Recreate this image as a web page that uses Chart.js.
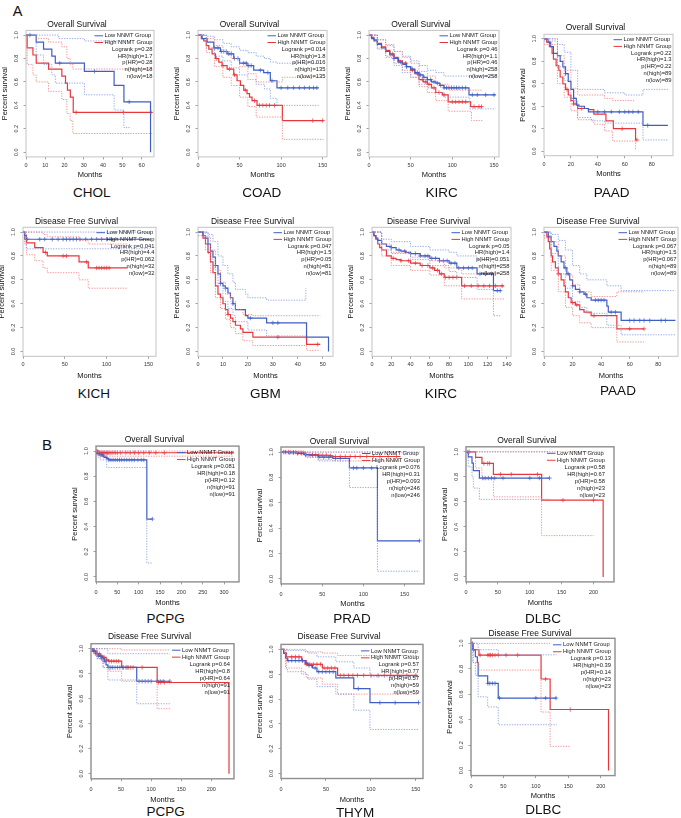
<!DOCTYPE html>
<html>
<head>
<meta charset="utf-8">
<script src="https://cdn.jsdelivr.net/npm/chart.js@4.4.0/dist/chart.umd.min.js"></script>
<style>
html, body { margin: 0; padding: 0; background: #fff; }
#fig { position: relative; width: 681px; height: 818px; overflow: hidden; font-family: "Liberation Sans", Arial, sans-serif; color: #111; }
#fig canvas { position: absolute; }
.lab { position: absolute; transform: translate(-50%, -50%); white-space: nowrap; line-height: 1; }
</style>
</head>
<body>
<div id="fig"></div>
<script>
// ---- data: [months, survival] step points, censor times ----
const GROUPS = ['Low NNMT Group', 'High NNMT Group'];
const Y_TICKS = [0, 0.2, 0.4, 0.6, 0.8, 1.0];

// CHOL overall survival
const CHOL_XT = [0, 10, 20, 30, 40, 50, 60];
const CHOL_STATS = ['Logrank p=0.28', 'HR(high)=1.7', 'p(HR)=0.28', 'n(high)=18', 'n(low)=18'];
const CHOL_LOW = [[0,1],[5.3,0.94],[9.1,0.88],[13.4,0.82],[15.2,0.76],[30.3,0.69],[45.7,0.57],[50.8,0.43],[64.6,0.43],[64.6,0]];
const CHOL_HIGH = [[0,1],[0.6,0.89],[3.6,0.83],[5.3,0.76],[11.7,0.71],[18.6,0.65],[20.5,0.59],[21.5,0.53],[23,0.47],[24.5,0.34],[65.5,0.34]];
const CHOL_LOW_UP = [[0,1],[16,1],[17,0.97],[30.3,0.95],[54.5,0.95]];
const CHOL_LOW_DN = [[0,1],[5.3,0.83],[9.1,0.75],[13.4,0.66],[15.2,0.59],[30.3,0.49],[45.7,0.36],[50.8,0.21],[54.5,0.21]];
const CHOL_HIGH_UP = [[0,1],[5.3,0.97],[11.7,0.94],[18.6,0.9],[21.2,0.8],[22.9,0.75],[24.3,0.71],[65.5,0.71]];
const CHOL_HIGH_DN = [[0,1],[0.6,0.75],[3.6,0.66],[5.3,0.6],[11.7,0.52],[18.6,0.45],[21.2,0.33],[22.9,0.27],[24.3,0.16],[65.5,0.16]];
const CHOL_LOW_CENS = [2, 17.5, 35.5, 53.5];
const CHOL_HIGH_CENS = [26, 50.5, 64.8];

// COAD overall survival
const COAD_XT = [0, 50, 100, 150];
const COAD_STATS = ['Logrank p=0.014', 'HR(high)=1.8', 'p(HR)=0.016', 'n(high)=135', 'n(low)=135'];
const COAD_LOW = [[0,1],[5,0.97],[11,0.94],[19,0.89],[27,0.86],[35,0.84],[43,0.8],[50,0.76],[59,0.74],[67,0.7],[79,0.68],[87,0.61],[95,0.55],[145,0.55]];
const COAD_HIGH = [[0,1],[4,0.97],[7,0.95],[10,0.91],[13,0.88],[17,0.84],[21,0.8],[25,0.77],[29,0.74],[35,0.71],[43,0.66],[47,0.61],[51,0.57],[55,0.53],[59,0.5],[62,0.47],[65,0.44],[71,0.4],[101.5,0.27],[151,0.27]];
const COAD_LOW_UP = [[0,1],[10,0.99],[20,0.96],[30,0.93],[40,0.9],[50,0.87],[60,0.85],[70,0.82],[80,0.8],[87,0.77],[95,0.76],[145,0.76]];
const COAD_LOW_DN = [[0,1],[10,0.89],[20,0.82],[30,0.78],[40,0.72],[50,0.66],[60,0.62],[70,0.58],[80,0.54],[87,0.46],[95,0.4],[145,0.4]];
const COAD_HIGH_UP = [[0,1],[10,0.97],[20,0.91],[30,0.86],[40,0.8],[50,0.73],[60,0.67],[70,0.6],[101.5,0.64],[151,0.64]];
const COAD_HIGH_DN = [[0,1],[10,0.85],[20,0.73],[30,0.64],[40,0.57],[50,0.47],[60,0.39],[70,0.3],[101.5,0.11],[151,0.11]];
const COAD_LOW_CENS = [20,24,28,31,34,37,40,44,48,55,58,61,64,75,84,89,100,108,115,122,128,134,139,143];
const COAD_HIGH_CENS = [22,30,38,44,57,68,74,78,82,86,92,138,150];

// KIRC overall survival
const KIRC_OS_XT = [0, 50, 100, 150];
const KIRC_OS_STATS = ['Logrank p=0.46', 'HR(high)=1.1', 'p(HR)=0.46', 'n(high)=258', 'n(low)=258'];
const KIRC_OS_LOW = [[0,1],[3,0.97],[6,0.95],[10,0.92],[15,0.89],[20,0.86],[25,0.83],[30,0.8],[35,0.77],[40,0.75],[45,0.73],[50,0.71],[55,0.68],[60,0.66],[65,0.64],[70,0.62],[75,0.6],[80,0.59],[85,0.57],[90,0.55],[120,0.49],[152,0.49]];
const KIRC_OS_HIGH = [[0,1],[3,0.98],[6,0.96],[10,0.93],[15,0.9],[20,0.87],[25,0.84],[30,0.81],[35,0.78],[40,0.76],[45,0.73],[50,0.7],[55,0.67],[60,0.62],[65,0.6],[70,0.58],[75,0.55],[80,0.51],[88,0.49],[95,0.43],[122,0.39],[136,0.39]];
const KIRC_OS_LOW_UP = [[0,1],[10,0.96],[20,0.91],[30,0.86],[40,0.82],[50,0.78],[60,0.74],[70,0.7],[80,0.68],[90,0.65],[152,0.65]];
const KIRC_OS_LOW_DN = [[0,1],[10,0.88],[20,0.81],[30,0.74],[40,0.68],[50,0.64],[60,0.58],[70,0.55],[80,0.51],[90,0.47],[121,0.37],[152,0.37]];
const KIRC_OS_HIGH_UP = [[0,1],[10,0.96],[20,0.92],[30,0.86],[40,0.81],[50,0.76],[60,0.69],[70,0.65],[80,0.58],[95,0.53],[136,0.53]];
const KIRC_OS_HIGH_DN = [[0,1],[10,0.89],[20,0.82],[30,0.76],[40,0.7],[50,0.64],[60,0.56],[70,0.51],[80,0.44],[95,0.35],[123,0.27],[136,0.27]];
const KIRC_OS_LOW_CENS = [30,38,45,52,58,62,66,70,74,78,82,86,90,93,96,99,102,105,108,112,116,124,130,140,150];
const KIRC_OS_HIGH_CENS = [28,36,44,52,58,64,68,72,78,84,90,100,104,108,112,116,126,132,135];

// PAAD overall survival
const PAAD_OS_XT = [0, 20, 40, 60, 80];
const PAAD_OS_STATS = ['Logrank p=0.22', 'HR(high)=1.3', 'p(HR)=0.22', 'n(high)=89', 'n(low)=89'];
const PAAD_OS_LOW = [[0,1],[3,0.97],[5,0.93],[7,0.87],[10,0.85],[12,0.8],[14,0.75],[16,0.69],[18,0.62],[20,0.55],[22,0.47],[24,0.41],[26,0.4],[30,0.38],[33,0.35],[73.5,0.23],[92,0.23]];
const PAAD_OS_HIGH = [[0,1],[2,0.97],[4,0.93],[6,0.87],[7,0.82],[9,0.76],[11,0.72],[12,0.66],[14,0.6],[16,0.55],[18,0.5],[20,0.45],[22,0.42],[25,0.38],[33,0.37],[37,0.33],[46,0.27],[51.5,0.2],[68,0.1],[69,0.1]];
const PAAD_OS_LOW_UP = [[0,1],[10,0.95],[15,0.88],[20,0.72],[25,0.55],[45,0.52],[60,0.5],[73.5,0.55],[92,0.55]];
const PAAD_OS_LOW_DN = [[0,0.98],[10,0.75],[15,0.63],[20,0.45],[25,0.3],[35,0.27],[45,0.25],[73.5,0.1],[92,0.1]];
const PAAD_OS_HIGH_UP = [[0,1],[10,0.85],[15,0.72],[20,0.56],[25,0.5],[45,0.47],[51,0.45],[67,0.45]];
const PAAD_OS_HIGH_DN = [[0,0.95],[10,0.6],[15,0.48],[20,0.36],[25,0.28],[37,0.24],[45,0.18],[51,0.09],[68,0.02],[69,0.02]];
const PAAD_OS_LOW_CENS = [16,22,40,45,50,56,60,63,66,70,77];
const PAAD_OS_HIGH_CENS = [17,22,28,58,69];

// KICH disease free survival
const KICH_XT = [0, 50, 100, 150];
const KICH_STATS = ['Logrank p=0.041', 'HR(high)=4.4', 'p(HR)=0.062', 'n(high)=32', 'n(low)=32'];
const KICH_LOW = [[0,1],[2,0.97],[4,0.94],[152,0.94]];
const KICH_HIGH = [[0,1],[2,0.94],[4,0.91],[14,0.87],[24,0.83],[29,0.8],[67,0.75],[78,0.7],[125,0.7]];
const KICH_LOW_UP = [[0,1],[152,1]];
const KICH_LOW_DN = [[0,1],[2,0.9],[4,0.86],[152,0.86]];
const KICH_HIGH_UP = [[0,1],[24,0.98],[29,0.96],[67,0.93],[78,0.9],[125,0.9]];
const KICH_HIGH_DN = [[0,1],[4,0.81],[14,0.76],[24,0.7],[29,0.66],[67,0.6],[78,0.53],[125,0.53]];
const KICH_LOW_CENS = [5,20,26,35,42,48,52,56,60,64,68,75,82,88,94,100,106];
const KICH_HIGH_CENS = [27,48,52,76,88,91,94,97,100,103];

// GBM disease free survival
const GBM_XT = [0, 10, 20, 30, 40, 50];
const GBM_STATS = ['Logrank p=0.047', 'HR(high)=1.5', 'p(HR)=0.05', 'n(high)=81', 'n(low)=81'];
const GBM_LOW = [[0,1],[2,0.97],[3,0.95],[4,0.9],[5,0.84],[6,0.79],[7,0.72],[8,0.65],[9,0.57],[10,0.55],[11,0.53],[12,0.49],[13,0.45],[14,0.4],[15,0.35],[19,0.3],[20,0.28],[27.5,0.24],[43.5,0.12],[52.3,0.12],[52.3,0]];
const GBM_HIGH = [[0,1],[2,0.95],[3,0.9],[4,0.83],[5,0.75],[6,0.66],[7,0.55],[8,0.48],[9,0.45],[10,0.4],[11,0.35],[12,0.31],[13,0.28],[14,0.25],[15,0.22],[17,0.19],[18,0.16],[22,0.12],[43.5,0.06],[49,0.06]];
const GBM_LOW_UP = [[0,1],[4,0.98],[6,0.92],[8,0.8],[10,0.72],[12,0.65],[14,0.58],[15,0.52],[19,0.48],[20,0.45],[27.5,0.43],[43.2,0.43],[43.2,0.53]];
const GBM_LOW_DN = [[0,1],[4,0.82],[6,0.7],[8,0.55],[10,0.42],[12,0.36],[14,0.3],[15,0.25],[20,0.18],[27.5,0.13],[43.2,0.13]];
const GBM_HIGH_UP = [[0,1],[3,0.96],[5,0.85],[7,0.68],[9,0.58],[11,0.48],[13,0.42],[15,0.35],[18,0.31],[22,0.3],[49,0.3]];
const GBM_HIGH_DN = [[0,0.97],[3,0.85],[5,0.66],[7,0.45],[9,0.36],[11,0.27],[13,0.2],[15,0.15],[18,0.09],[22,0.05],[43.5,0.01],[49,0.01]];
const GBM_LOW_CENS = [7,9,11,14,21,30,32];
const GBM_HIGH_CENS = [12,32,48];

// KIRC disease free survival
const KIRC_DFS_XT = [0, 20, 40, 60, 80, 100, 120, 140];
const KIRC_DFS_STATS = ['Logrank p=0.05', 'HR(high)=1.4', 'p(HR)=0.051', 'n(high)=258', 'n(low)=258'];
const KIRC_DFS_LOW = [[0,1],[2,0.97],[4,0.95],[6,0.93],[10,0.9],[15,0.88],[20,0.87],[25,0.85],[30,0.84],[35,0.83],[40,0.82],[50,0.8],[60,0.78],[70,0.76],[80,0.74],[88,0.7],[109,0.65],[126,0.51],[134,0.51]];
const KIRC_DFS_HIGH = [[0,1],[2,0.97],[4,0.94],[6,0.9],[8,0.87],[10,0.85],[15,0.8],[20,0.78],[25,0.77],[30,0.76],[40,0.74],[50,0.72],[60,0.7],[65,0.68],[70,0.65],[75,0.62],[93,0.55],[137,0.55]];
const KIRC_DFS_LOW_UP = [[0,1],[10,0.94],[20,0.92],[40,0.88],[60,0.85],[80,0.83],[88,0.8],[109,0.77],[126,0.72],[134,0.72]];
const KIRC_DFS_LOW_DN = [[0,1],[10,0.85],[20,0.82],[40,0.77],[60,0.72],[80,0.67],[88,0.62],[109,0.52],[126,0.3],[134,0.3]];
const KIRC_DFS_HIGH_UP = [[0,1],[10,0.9],[20,0.83],[40,0.79],[60,0.76],[75,0.7],[93,0.65],[137,0.65]];
const KIRC_DFS_HIGH_DN = [[0,1],[10,0.8],[20,0.72],[40,0.68],[60,0.64],[75,0.55],[93,0.44],[137,0.44]];
const KIRC_DFS_LOW_CENS = [20,28,34,40,45,50,55,58,62,66,70,74,78,82,86,90,95,100,104,112,118,124,130,133];
const KIRC_DFS_HIGH_CENS = [22,30,38,45,52,58,63,68,72,76,80,84,88,96,103,110,116,122,128,135];

// PAAD disease free survival
const PAAD_DFS_XT = [0, 20, 40, 60, 80];
const PAAD_DFS_STATS = ['Logrank p=0.067', 'HR(high)=1.5', 'p(HR)=0.067', 'n(high)=89', 'n(low)=89'];
const PAAD_DFS_LOW = [[0,1],[3,0.96],[5,0.92],[7,0.88],[9,0.84],[10,0.8],[12,0.75],[14,0.7],[16,0.65],[18,0.6],[20,0.55],[22,0.52],[25,0.5],[28,0.48],[30,0.45],[33,0.43],[44,0.38],[45,0.33],[54,0.26],[92,0.26]];
const PAAD_DFS_HIGH = [[0,1],[2,0.96],[3,0.92],[4,0.86],[5,0.8],[6,0.75],[8,0.7],[10,0.65],[12,0.6],[14,0.55],[15,0.5],[17,0.45],[19,0.41],[22,0.39],[25,0.35],[28,0.33],[33,0.3],[51,0.19],[70,0.19]];
const PAAD_DFS_LOW_UP = [[0,1],[5,0.98],[10,0.93],[15,0.85],[20,0.72],[25,0.65],[30,0.6],[44,0.55],[54,0.51],[92,0.51]];
const PAAD_DFS_LOW_DN = [[0,0.97],[5,0.82],[10,0.65],[15,0.53],[20,0.42],[25,0.37],[30,0.32],[44,0.22],[54,0.14],[92,0.14]];
const PAAD_DFS_HIGH_UP = [[0,1],[5,0.92],[10,0.8],[15,0.64],[20,0.56],[25,0.5],[33,0.46],[51,0.5],[70,0.5]];
const PAAD_DFS_HIGH_DN = [[0,0.95],[5,0.68],[10,0.5],[15,0.37],[20,0.3],[25,0.24],[33,0.2],[51,0.08],[70,0.08]];
const PAAD_DFS_LOW_CENS = [15,17,20,25,29,36,38,40,42,47,50,60,63,67,70,74,82,85];
const PAAD_DFS_HIGH_CENS = [10,20,23,35,60,70];

// PCPG overall survival
const PCPG_OS_XT = [0, 50, 100, 150, 200, 250, 300];
const PCPG_OS_STATS = ['Logrank p=0.081', 'HR(high)=0.18', 'p(HR)=0.12', 'n(high)=91', 'n(low)=91'];
const PCPG_OS_LOW = [[0,1],[3,0.98],[8,0.97],[15,0.96],[20,0.95],[25,0.94],[30,0.93],[119,0.46],[132,0.46]];
const PCPG_OS_HIGH = [[0,1],[5,0.99],[10,0.987],[322,0.987]];
const PCPG_OS_LOW_UP = [[0,1],[132,1]];
const PCPG_OS_LOW_DN = [[0,1],[5,0.95],[10,0.93],[25,0.87],[119,0.11],[132,0.11]];
const PCPG_OS_HIGH_UP = [[0,1],[322,1]];
const PCPG_OS_HIGH_DN = [[0,1],[5,0.975],[10,0.96],[322,0.96]];
const PCPG_OS_LOW_CENS = [5,10,14,18,24,30,35,40,45,50,55,60,66,72,78,84,90,98,106,112,132];
const PCPG_OS_HIGH_CENS = [3,6,9,12,15,18,21,24,27,30,35,40,45,50,58,70,80,90,100,112,125,140,160];

// PRAD overall survival
const PRAD_XT = [0, 50, 100, 150];
const PRAD_STATS = ['Logrank p=0.076', 'HR(high)=0.31', 'p(HR)=0.093', 'n(high)=246', 'n(low)=246'];
const PRAD_LOW = [[0,1],[10,0.995],[20,0.99],[28,0.98],[35,0.975],[45,0.96],[63,0.95],[83,0.875],[117,0.3],[168,0.3]];
const PRAD_HIGH = [[0,1],[20,0.995],[30,0.98],[45,0.975],[60,0.97],[63,0.965],[145,0.965]];
const PRAD_LOW_UP = [[0,1],[168,1]];
const PRAD_LOW_DN = [[0,1],[30,0.96],[45,0.93],[83,0.72],[117,0.06],[168,0.06]];
const PRAD_HIGH_UP = [[0,1],[145,1]];
const PRAD_HIGH_DN = [[0,1],[30,0.96],[45,0.94],[63,0.93],[145,0.92]];
const PRAD_LOW_CENS = [5,10,15,20,25,30,38,46,52,58,66,72,88,92,100,110,168];
const PRAD_HIGH_CENS = [3,6,9,12,15,18,21,24,27,30,34,38,42,46,50,55,60,66,72,78,84,90,96,104,112,120,130,140];

// DLBC overall survival
const DLBC_OS_XT = [0, 50, 100, 150, 200];
const DLBC_OS_STATS = ['Logrank p=0.58', 'HR(high)=0.67', 'p(HR)=0.58', 'n(high)=23', 'n(low)=23'];
const DLBC_OS_LOW = [[0,1],[3.6,0.96],[9.4,0.91],[11.5,0.85],[21,0.79],[131,0.79]];
const DLBC_OS_HIGH = [[0,1],[15,0.955],[25,0.907],[43,0.82],[118.5,0.613],[215,0.613],[215,0]];
const DLBC_OS_LOW_UP = [[0,1],[131,1]];
const DLBC_OS_LOW_DN = [[0,1],[3.6,0.88],[9.4,0.8],[11.5,0.71],[21,0.62],[131,0.62]];
const DLBC_OS_HIGH_UP = [[0,1],[215,1]];
const DLBC_OS_HIGH_DN = [[0,1],[15,0.87],[25,0.78],[43,0.64],[118.5,0.33],[200,0.33]];
const DLBC_OS_LOW_CENS = [3,26,30,35,40,45,58,100,115,131];
const DLBC_OS_HIGH_CENS = [5,28,34,37,54,71,112,152,200];

// PCPG disease free survival
const PCPG_DFS_XT = [0, 50, 100, 150, 200];
const PCPG_DFS_STATS = ['Logrank p=0.64', 'HR(high)=0.8', 'p(HR)=0.64', 'n(high)=91', 'n(low)=91'];
const PCPG_DFS_LOW = [[0,1],[3,0.98],[8,0.96],[12,0.94],[18,0.92],[22,0.9],[25,0.87],[28,0.85],[76,0.74],[131,0.74]];
const PCPG_DFS_HIGH = [[0,1],[5,0.98],[10,0.96],[15,0.94],[20,0.93],[25,0.91],[29,0.9],[51,0.85],[110,0.73],[229.4,0.73],[229.4,0]];
const PCPG_DFS_LOW_UP = [[0,1],[20,1],[28,0.96],[131,0.96]];
const PCPG_DFS_LOW_DN = [[0,1],[10,0.92],[20,0.85],[28,0.75],[76,0.56],[131,0.56]];
const PCPG_DFS_HIGH_UP = [[0,1],[51,0.99],[132,0.99]];
const PCPG_DFS_HIGH_DN = [[0,1],[10,0.92],[20,0.85],[30,0.82],[51,0.74],[110,0.52],[132,0.52]];
const PCPG_DFS_LOW_CENS = [4,8,12,16,18,22,30,33,36,40,44,48,52,60,80,85,90,95,100,110,115,120,131];
const PCPG_DFS_HIGH_CENS = [6,10,14,18,22,26,30,34,38,42,46,54,58,62,66,70,85,112,116,122];

// THYM disease free survival
const THYM_XT = [0, 50, 100, 150];
const THYM_STATS = ['Logrank p=0.57', 'HR(high)=0.77', 'p(HR)=0.57', 'n(high)=59', 'n(low)=59'];
const THYM_LOW = [[0,1],[3,0.97],[5,0.93],[7,0.91],[27,0.89],[30,0.87],[35,0.85],[40,0.82],[61,0.77],[81,0.684],[99,0.571],[154,0.571]];
const THYM_HIGH = [[0,1],[3,0.97],[6,0.94],[23,0.91],[28,0.88],[46,0.85],[63,0.79],[152,0.79]];
const THYM_LOW_UP = [[0,1],[7,0.99],[27,0.98],[30,0.97],[40,0.94],[61,0.9],[81,0.85],[99,0.78],[154,0.78]];
const THYM_LOW_DN = [[0,1],[5,0.85],[7,0.82],[27,0.8],[30,0.76],[40,0.7],[61,0.64],[81,0.51],[99,0.355],[154,0.355]];
const THYM_HIGH_UP = [[0,1],[28,0.98],[46,0.97],[63,0.95],[152,0.95]];
const THYM_HIGH_DN = [[0,1],[6,0.85],[23,0.8],[28,0.77],[46,0.72],[63,0.64],[152,0.64]];
const THYM_LOW_CENS = [8,12,16,20,24,28,31,34,38,42,46,50,54,58,86,110,127,153];
const THYM_HIGH_CENS = [12,16,20,24,28,32,36,40,44,48,52,56,60,66,70,75,80,85,92,100,108,115,122,130,140,150];

// DLBC disease free survival
const DLBC_DFS_XT = [0, 50, 100, 150, 200];
const DLBC_DFS_STATS = ['Logrank p=0.13', 'HR(high)=0.39', 'p(HR)=0.14', 'n(high)=23', 'n(low)=23'];
const DLBC_DFS_LOW = [[0,1],[2.5,0.95],[6.7,0.895],[9.8,0.85],[11,0.745],[25.7,0.685],[42,0.57],[132,0.57]];
const DLBC_DFS_HIGH = [[0,1],[3.6,0.95],[12.3,0.908],[108,0.72],[122,0.48],[212,0.48],[212,0]];
const DLBC_DFS_LOW_UP = [[0,1],[11,0.95],[42,0.91],[132,0.91]];
const DLBC_DFS_LOW_DN = [[0,1],[2.5,0.85],[6.7,0.75],[11,0.58],[25.7,0.5],[42,0.36],[132,0.36]];
const DLBC_DFS_HIGH_UP = [[0,1],[122,1]];
const DLBC_DFS_HIGH_DN = [[0,1],[3.6,0.85],[12.3,0.79],[108,0.46],[122,0.19],[153,0.19]];
const DLBC_DFS_LOW_CENS = [2,26,29,33,37,44,100,115,131];
const DLBC_DFS_HIGH_CENS = [4,14,26,28,30,33,37,42,54,72,115,153];

// ---- layout (page pixels) ----
const OS = 'Overall Survival', DFS = 'Disease Free Survival';
const PLOTS = [
  { name: 'CHOL', title: OS, st: 'A', box: [25.7, 30.3, 154, 156.4], xMax: 66.4, titleY: 25, monthsY: 174, label: [91.7, 193], xt: CHOL_XT, stats: CHOL_STATS,
    c: [CHOL_LOW, CHOL_HIGH, CHOL_LOW_UP, CHOL_LOW_DN, CHOL_HIGH_UP, CHOL_HIGH_DN, CHOL_LOW_CENS, CHOL_HIGH_CENS] },
  { name: 'COAD', title: OS, st: 'A', box: [197.7, 30.3, 326.7, 156.4], xMax: 155.2, titleY: 25, monthsY: 174, label: [261.7, 193], xt: COAD_XT, stats: COAD_STATS,
    c: [COAD_LOW, COAD_HIGH, COAD_LOW_UP, COAD_LOW_DN, COAD_HIGH_UP, COAD_HIGH_DN, COAD_LOW_CENS, COAD_HIGH_CENS] },
  { name: 'KIRC', title: OS, st: 'A', box: [369, 30.3, 499, 156.4], xMax: 156, titleY: 25, monthsY: 174, label: [441.7, 193], xt: KIRC_OS_XT, stats: KIRC_OS_STATS,
    c: [KIRC_OS_LOW, KIRC_OS_HIGH, KIRC_OS_LOW_UP, KIRC_OS_LOW_DN, KIRC_OS_HIGH_UP, KIRC_OS_HIGH_DN, KIRC_OS_LOW_CENS, KIRC_OS_HIGH_CENS] },
  { name: 'PAAD', title: OS, st: 'A', box: [544, 34.5, 673, 156.2], xMax: 95.8, titleY: 28.3, monthsY: 174, label: [611.7, 193], xt: PAAD_OS_XT, stats: PAAD_OS_STATS,
    c: [PAAD_OS_LOW, PAAD_OS_HIGH, PAAD_OS_LOW_UP, PAAD_OS_LOW_DN, PAAD_OS_HIGH_UP, PAAD_OS_HIGH_DN, PAAD_OS_LOW_CENS, PAAD_OS_HIGH_CENS] },
  { name: 'KICH', title: DFS, st: 'A', box: [23.3, 227.5, 156.7, 356.5], xMax: 159, titleY: 222.3, monthsY: 375.7, label: [94, 394], xt: KICH_XT, stats: KICH_STATS,
    c: [KICH_LOW, KICH_HIGH, KICH_LOW_UP, KICH_LOW_DN, KICH_HIGH_UP, KICH_HIGH_DN, KICH_LOW_CENS, KICH_HIGH_CENS] },
  { name: 'GBM', title: DFS, st: 'A', box: [197.7, 227.5, 333, 356.5], xMax: 54.1, titleY: 222.3, monthsY: 375.7, label: [265.5, 394], xt: GBM_XT, stats: GBM_STATS,
    c: [GBM_LOW, GBM_HIGH, GBM_LOW_UP, GBM_LOW_DN, GBM_HIGH_UP, GBM_HIGH_DN, GBM_LOW_CENS, GBM_HIGH_CENS] },
  { name: 'KIRC', title: DFS, st: 'A', box: [371.7, 227.5, 510.7, 356.5], xMax: 144.2, titleY: 222.3, monthsY: 375.7, label: [441, 394], xt: KIRC_DFS_XT, stats: KIRC_DFS_STATS,
    c: [KIRC_DFS_LOW, KIRC_DFS_HIGH, KIRC_DFS_LOW_UP, KIRC_DFS_LOW_DN, KIRC_DFS_HIGH_UP, KIRC_DFS_HIGH_DN, KIRC_DFS_LOW_CENS, KIRC_DFS_HIGH_CENS] },
  { name: 'PAAD', title: DFS, st: 'A', box: [544.3, 227.5, 678, 356.5], xMax: 93.8, titleY: 222.3, monthsY: 375.7, label: [618, 391], xt: PAAD_DFS_XT, stats: PAAD_DFS_STATS,
    c: [PAAD_DFS_LOW, PAAD_DFS_HIGH, PAAD_DFS_LOW_UP, PAAD_DFS_LOW_DN, PAAD_DFS_HIGH_UP, PAAD_DFS_HIGH_DN, PAAD_DFS_LOW_CENS, PAAD_DFS_HIGH_CENS] },
  { name: 'PCPG', title: OS, st: 'B', box: [95.7, 446, 238.3, 581.7], xMax: 335, titleY: 440, monthsY: 602.3, label: [165.7, 619], xt: PCPG_OS_XT, stats: PCPG_OS_STATS,
    c: [PCPG_OS_LOW, PCPG_OS_HIGH, PCPG_OS_LOW_UP, PCPG_OS_LOW_DN, PCPG_OS_HIGH_UP, PCPG_OS_HIGH_DN, PCPG_OS_LOW_CENS, PCPG_OS_HIGH_CENS] },
  { name: 'PRAD', title: OS, st: 'B', box: [280.7, 447.2, 423.3, 584.4], xMax: 173.5, titleY: 442.3, monthsY: 604, label: [352, 619], xt: PRAD_XT, stats: PRAD_STATS,
    c: [PRAD_LOW, PRAD_HIGH, PRAD_LOW_UP, PRAD_LOW_DN, PRAD_HIGH_UP, PRAD_HIGH_DN, PRAD_LOW_CENS, PRAD_HIGH_CENS] },
  { name: 'DLBC', title: OS, st: 'B', box: [466, 446.7, 614.3, 581.7], xMax: 232, titleY: 441, monthsY: 602.3, label: [543, 619], xt: DLBC_OS_XT, stats: DLBC_OS_STATS, margin: 9,
    c: [DLBC_OS_LOW, DLBC_OS_HIGH, DLBC_OS_LOW_UP, DLBC_OS_LOW_DN, DLBC_OS_HIGH_UP, DLBC_OS_HIGH_DN, DLBC_OS_LOW_CENS, DLBC_OS_HIGH_CENS] },
  { name: 'PCPG', title: DFS, st: 'B', box: [90.7, 643.3, 233.3, 778.3], xMax: 237.7, titleY: 636.7, monthsY: 799, label: [165.7, 812], xt: PCPG_DFS_XT, stats: PCPG_DFS_STATS,
    c: [PCPG_DFS_LOW, PCPG_DFS_HIGH, PCPG_DFS_LOW_UP, PCPG_DFS_LOW_DN, PCPG_DFS_HIGH_UP, PCPG_DFS_HIGH_DN, PCPG_DFS_LOW_CENS, PCPG_DFS_HIGH_CENS] },
  { name: 'THYM', title: DFS, st: 'B', box: [281, 644, 423.3, 778.3], xMax: 158, titleY: 636.7, monthsY: 799.3, label: [355, 812.7], xt: THYM_XT, stats: THYM_STATS,
    c: [THYM_LOW, THYM_HIGH, THYM_LOW_UP, THYM_LOW_DN, THYM_HIGH_UP, THYM_HIGH_DN, THYM_LOW_CENS, THYM_HIGH_CENS] },
  { name: 'DLBC', title: DFS, st: 'B', box: [471, 638.2, 615, 775.8], xMax: 222, titleY: 634, monthsY: 795.7, label: [543.3, 810], xt: DLBC_DFS_XT, stats: DLBC_DFS_STATS,
    c: [DLBC_DFS_LOW, DLBC_DFS_HIGH, DLBC_DFS_LOW_UP, DLBC_DFS_LOW_DN, DLBC_DFS_HIGH_UP, DLBC_DFS_HIGH_DN, DLBC_DFS_LOW_CENS, DLBC_DFS_HIGH_CENS] }
];

const FONT = '"Liberation Sans", Arial, sans-serif';
const BLUE = '#3e5ec6', RED = '#e8363b', BLUE_CI = '#7d95de', RED_CI = '#f07a7a';
const YW = 26;
const STYLE = {
  A: { boxColor: '#c4c4c4', boxWidth: 1, xPad: 3, legTop: 5.4, rowH: 6.7, margin: 1.5 },
  B: { boxColor: '#8e8e8e', boxWidth: 1.4, xPad: 5.5, legTop: 6.5, rowH: 6.95, margin: 4 }
};

const fig = document.getElementById('fig');

function survAt(curve, t) {
  let s = curve[0][1];
  for (const p of curve) {
    if (p[0] <= t) s = p[1]; else break;
  }
  return s;
}

function stepLine(pts, color, width, dash) {
  return {
    data: pts.map(p => ({ x: p[0], y: p[1] })),
    borderColor: color, borderWidth: width, borderDash: dash || [],
    stepped: true, pointRadius: 0, fill: false, tension: 0
  };
}

function censors(curve, times, color) {
  return {
    data: times.map(t => ({ x: t, y: survAt(curve, t) })),
    showLine: false, pointStyle: 'cross', pointRadius: 2.2,
    borderColor: color, pointBorderWidth: 0.7, borderWidth: 0.7
  };
}

const boxPlugin = {
  id: 'kmBox',
  beforeDatasetsDraw(chart, args, o) {
    const a = chart.chartArea, ctx = chart.ctx;
    ctx.save();
    ctx.strokeStyle = o.color;
    ctx.lineWidth = o.width;
    ctx.strokeRect(a.left, a.top, a.right - a.left, a.bottom - a.top);
    ctx.restore();
  }
};

const legendPlugin = {
  id: 'kmLegend',
  afterDatasetsDraw(chart, args, o) {
    const a = chart.chartArea, ctx = chart.ctx;
    ctx.save();
    ctx.font = '5.8px ' + FONT;
    ctx.textBaseline = 'middle';
    ctx.fillStyle = '#1a1a1a';
    const right = a.right - o.margin;
    const gw = Math.max(...GROUPS.map(g => ctx.measureText(g).width));
    const gx = right - gw;
    let y = a.top + o.top;
    [BLUE, RED].forEach((col, i) => {
      ctx.strokeStyle = col;
      ctx.lineWidth = 1;
      ctx.beginPath();
      ctx.moveTo(gx - 10, y);
      ctx.lineTo(gx - 1.5, y);
      ctx.stroke();
      ctx.textAlign = 'left';
      ctx.fillText(GROUPS[i], gx, y);
      y += o.rowH;
    });
    ctx.textAlign = 'right';
    o.lines.forEach(s => { ctx.fillText(s, right, y); y += o.rowH; });
    ctx.restore();
  }
};

function addLabel(text, x, y, size) {
  const d = document.createElement('div');
  d.className = 'lab';
  d.style.left = x + 'px';
  d.style.top = y + 'px';
  d.style.fontSize = size + 'px';
  d.textContent = text;
  fig.appendChild(d);
}

function drawPlot(p) {
  const st = STYLE[p.st];
  const [L, T, R, B] = p.box;
  const th = T - p.titleY + 5.1;
  const xh = p.monthsY - B + 4.5;
  const left = Math.round(L - YW), top = Math.round(T - th);
  const w = Math.round(R - L + 2 * YW), h = Math.round(B - T + th + xh);
  const cv = document.createElement('canvas');
  cv.width = w; cv.height = h;
  cv.style.left = left + 'px'; cv.style.top = top + 'px';
  cv.style.width = w + 'px'; cv.style.height = h + 'px';
  fig.appendChild(cv);

  const [low, high, lowUp, lowDn, highUp, highDn, lowC, highC] = p.c;
  const dash = [1.3, 1.3];
  const datasets = [
    stepLine(lowUp, BLUE_CI, 0.8, dash), stepLine(lowDn, BLUE_CI, 0.8, dash),
    stepLine(highUp, RED_CI, 0.8, dash), stepLine(highDn, RED_CI, 0.8, dash),
    stepLine(low, BLUE, 1.2), stepLine(high, RED, 1.2),
    censors(low, lowC, BLUE), censors(high, highC, RED)
  ];

  const tickFont = { family: FONT, size: 5.5 };
  const axisFont = { family: FONT, size: 7.5 };
  const grid = { drawOnChartArea: false, drawTicks: true, tickLength: 2.5, color: '#777', lineWidth: 0.7 };

  new Chart(cv, {
    type: 'line',
    data: { datasets },
    options: {
      responsive: false, animation: false, events: [],
      layout: { padding: { left: 0, right: YW, top: 0, bottom: 0 } },
      plugins: {
        legend: { display: false },
        tooltip: { enabled: false },
        title: { display: true, text: p.title, color: '#111', font: { family: FONT, size: 8.5, weight: 'normal' },
                 padding: { top: 0, bottom: th - 10.2 } },
        kmBox: { color: st.boxColor, width: st.boxWidth },
        kmLegend: { margin: p.margin || st.margin, top: st.legTop, rowH: st.rowH, lines: p.stats }
      },
      scales: {
        x: {
          type: 'linear', min: 0, max: p.xMax,
          afterBuildTicks: s => { s.ticks = p.xt.map(v => ({ value: v })); },
          afterFit: s => { s.height = xh; },
          ticks: { font: tickFont, color: '#333', padding: st.xPad - 0.3, autoSkip: false, maxRotation: 0 },
          grid: grid, border: { display: false },
          title: { display: true, text: 'Months', color: '#111', font: axisFont, padding: { top: 0, bottom: 0 } }
        },
        y: {
          type: 'linear', min: -0.04, max: 1.04,
          afterBuildTicks: s => { s.ticks = Y_TICKS.map(v => ({ value: v })); },
          afterFit: s => { s.width = YW; },
          ticks: { font: tickFont, color: '#333', padding: 3.6, minRotation: 90, maxRotation: 90, crossAlign: 'center',
                   autoSkip: false, callback: v => v.toFixed(1) },
          grid: grid, border: { display: false },
          title: { display: true, text: 'Percent survival', color: '#111', font: axisFont, padding: { top: 0.5, bottom: 0 } }
        }
      }
    },
    plugins: [boxPlugin, legendPlugin]
  });

  addLabel(p.name, p.label[0], p.label[1], 13.5);
}

PLOTS.forEach(drawPlot);
addLabel('A', 17.5, 10.5, 14.5);
addLabel('B', 47, 444, 15);
</script>
</body>
</html>
